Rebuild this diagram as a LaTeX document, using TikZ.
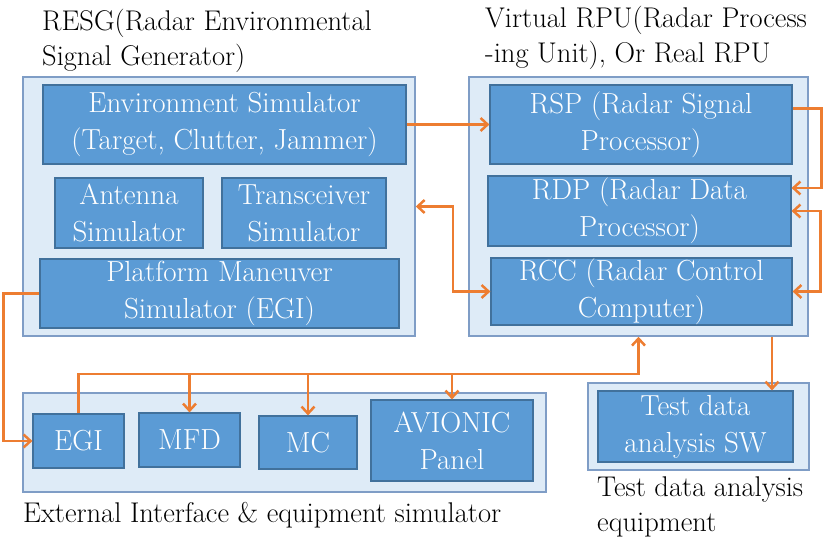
\documentclass[tikz,border=0pt]{standalone}
\usetikzlibrary{arrows.meta}
\definecolor{inblue}{HTML}{5B9BD5}
\definecolor{inedge}{HTML}{41719C}
\definecolor{outfill}{HTML}{DEEBF7}
\definecolor{outedge}{HTML}{7F9DC6}
\definecolor{orng}{HTML}{ED7D31}
\begin{document}
\begin{tikzpicture}[x=1pt,y=-1pt,
  outerbox/.style={draw=outedge, fill=outfill, line width=1.5pt, inner sep=0pt},
  innerbox/.style={draw=inedge, fill=inblue, line width=1.2pt, inner sep=0pt, text=white, align=center, font=\rmfamily\fontsize{29}{37}\selectfont},
  lbl/.style={inner sep=0pt, align=left, font=\rmfamily\fontsize{28.5}{35}\selectfont, text=black},
  conn/.style={draw=orng, line width=2.5pt, -{Straight Barb[length=7pt,width=13pt]}},
  conntwo/.style={draw=orng, line width=2.5pt, {Straight Barb[length=7pt,width=13pt]}-{Straight Barb[length=7pt,width=13pt]}}
]
\path[use as bounding box] (0,0) rectangle (827,540);

% outer boxes
\node[outerbox, minimum width=392pt, minimum height=259pt] (resgo) at (219,206.5) {};
\node[outerbox, minimum width=339pt, minimum height=259pt] (rpuo) at (638.5,206.5) {};
\node[outerbox, minimum width=523pt, minimum height=99pt] (exto) at (284.5,442.5) {};
\node[outerbox, minimum width=221pt, minimum height=87pt] (tsto) at (698.5,426.5) {};

% inner boxes
\node[innerbox, minimum width=363pt, minimum height=79pt] (env) at (224.5,124.5) {Environment Simulator\\(Target, Clutter, Jammer)};
\node[innerbox, minimum width=148pt, minimum height=70pt] (ant) at (129,213) {Antenna\\Simulator};
\node[innerbox, minimum width=164pt, minimum height=70pt] (trx) at (304,213) {Transceiver\\Simulator};
\node[innerbox, minimum width=359pt, minimum height=69pt] (plat) at (219.5,293.5) {Platform Maneuver\\Simulator (EGI)};
\node[innerbox, minimum width=302pt, minimum height=79pt] (rsp) at (641,124.5) {RSP (Radar Signal\\Processor)};
\node[innerbox, minimum width=303pt, minimum height=70pt] (rdp) at (639.5,211) {RDP (Radar Data\\Processor)};
\node[innerbox, minimum width=301pt, minimum height=67pt] (rcc) at (641.5,291.5) {RCC (Radar Control\\Computer)};
\node[innerbox, minimum width=91pt, minimum height=54pt] (egi) at (78.5,441) {EGI};
\node[innerbox, minimum width=101pt, minimum height=54pt] (mfd) at (189.5,440) {MFD};
\node[innerbox, minimum width=98pt, minimum height=53pt] (mc) at (308,442.5) {MC};
\node[innerbox, minimum width=162pt, minimum height=81pt] (avi) at (452,440.5) {AVIONIC\\Panel};
\node[innerbox, minimum width=195pt, minimum height=71pt] (tsw) at (695.5,426.5) {Test data\\analysis SW};

% labels
\node[lbl, anchor=north west] (lresg) at (42,9) {RESG(Radar Environmental\\Signal Generator)};
\node[lbl, anchor=north west] (lrpu) at (485,6) {Virtual RPU(Radar Process\\-ing Unit), Or Real RPU};
\node[lbl, anchor=base west] (lext) at (23,522) {External Interface \& equipment simulator};
\node[lbl, anchor=north west] (ltst) at (597,477) {Test data analysis\\equipment};

% connectors
\draw[conn] (env.east) -- (rsp.west);
\draw[conntwo] (resgo.east) -- ++(37,0) |- (rcc.west);
\draw[conn] ([yshift=16pt]rsp.east) -- ++(29,0) |- ([yshift=23pt]rdp.east);
\draw[conntwo] (rdp.east) -- ++(29,0) |- (rcc.east);
\draw[conn] (plat.west) -- ++(-36,0) |- (egi.west);
\coordinate (busy) at (0,374);
\draw[conn] (egi.north) -- (egi.north |- busy) -| (rpuo.south);
\draw[conn] (mfd.north |- busy) -- (mfd.north);
\draw[conn] (mc.north |- busy) -- (mc.north);
\draw[conn] (avi.north |- busy) -- (avi.north);
\coordinate (tdrop) at ([xshift=133.5pt]rpuo.south);
\draw[conn] (tdrop) -- (tdrop |- tsw.north);
\end{tikzpicture}
\end{document}
